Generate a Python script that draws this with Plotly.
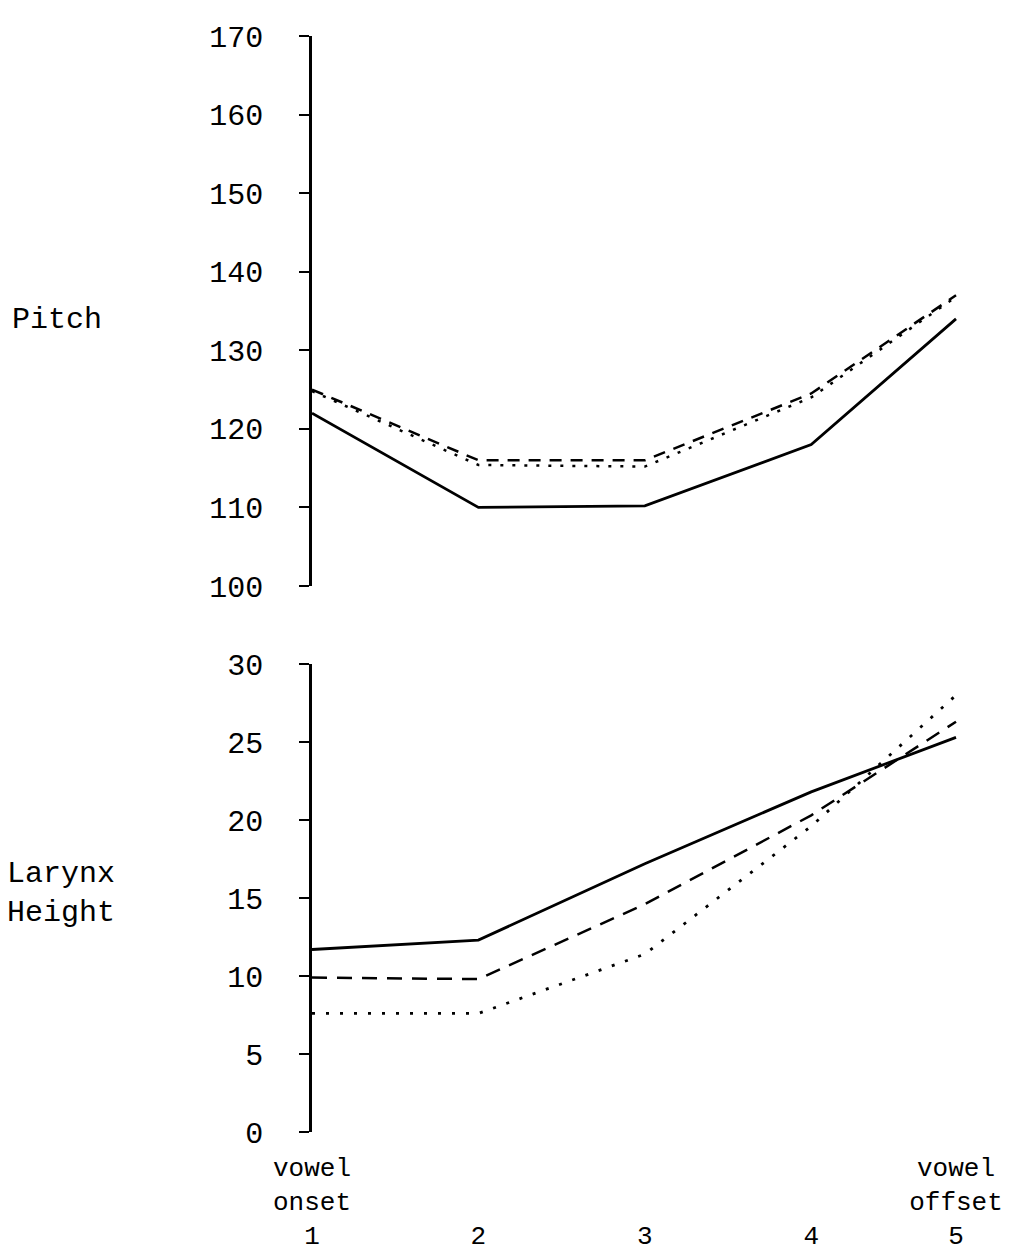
import plotly.graph_objects as go

# ---- data ----
time_index = [1, 2, 3, 4, 4.87]          # horizontal position of the 5 measurement points
NB = "\u00a0"
tick_labels = ["vowel<br>onset<br>1",
               NB + "<br>" + NB + "<br>2",
               NB + "<br>" + NB + "<br>3",
               NB + "<br>" + NB + "<br>4",
               "vowel<br>offset<br>5"]

pitch_solid = [122.0, 110.0, 110.2, 118.0, 134.0]
pitch_dashed = [125.0, 116.0, 116.0, 124.5, 137.0]
pitch_dotted = [124.8, 115.4, 115.2, 124.0, 136.8]

larynx_solid = [11.7, 12.3, 17.2, 21.8, 25.3]
larynx_dashed = [9.9, 9.8, 14.6, 20.3, 26.3]
larynx_dotted = [7.6, 7.6, 11.4, 19.6, 28.0]

pitch_ticks = [100, 110, 120, 130, 140, 150, 160, 170]
larynx_ticks = [0, 5, 10, 15, 20, 25, 30]

FONT = "Liberation Mono"
FS = 30
W, H = 1021, 1252

fig = go.Figure()

def add(x, y, dash, xa, ya, width=2.5):
    fig.add_trace(go.Scatter(x=x, y=y, mode="lines", xaxis=xa, yaxis=ya,
                             line=dict(color="black", width=width, dash=dash),
                             showlegend=False, hoverinfo="skip"))

# top panel (pitch)
add(time_index, pitch_solid, "solid", "x2", "y2", 2.8)
add(time_index, pitch_dashed, "12px,9px", "x2", "y2", 2.5)
add(time_index, pitch_dotted, "3px,9px", "x2", "y2", 2.5)

# bottom panel (larynx height)
add(time_index, larynx_solid, "solid", "x", "y", 2.8)
add(time_index, larynx_dashed, "15px,10px", "x", "y", 2.5)
add(time_index, larynx_dotted, "3px,11px", "x", "y", 2.8)

x_dom = [312 / W, 961 / W]
x_rng = [1, 4.9]

yaxis_common = dict(
    showline=True, linecolor="black", linewidth=2.5,
    ticks="outside", ticklen=10, tickwidth=2, tickcolor="black",
    showgrid=False, zeroline=False, ticklabelstandoff=30, automargin=False,
    tickfont=dict(family=FONT, size=FS, color="black"),
)

fig.update_layout(
    width=W, height=H,
    margin=dict(l=0, r=0, t=0, b=0, autoexpand=False),
    paper_bgcolor="white", plot_bgcolor="white",
    xaxis=dict(domain=x_dom, range=x_rng, anchor="y", automargin=False,
               showline=False, showgrid=False, zeroline=False, ticks="",
               tickmode="array", tickvals=time_index, ticktext=tick_labels,
               tickfont=dict(family=FONT, size=26, color="black"),
               ticklabelstandoff=17),
    xaxis2=dict(domain=x_dom, range=x_rng, anchor="y2", automargin=False,
                showline=False, showgrid=False, zeroline=False,
                showticklabels=False, ticks=""),
    yaxis=dict(domain=[1 - 1132 / H, 1 - 664 / H], range=[0, 30],
               anchor="x", tickmode="array", tickvals=larynx_ticks,
               **yaxis_common),
    yaxis2=dict(domain=[1 - 586 / H, 1 - 36 / H], range=[100, 170],
                anchor="x2", tickmode="array", tickvals=pitch_ticks,
                **yaxis_common),
    annotations=[
        dict(text="Pitch", x=10 / W, y=1 - 320 / H, xref="paper", yref="paper",
             xanchor="left", yanchor="middle", showarrow=False,
             font=dict(family=FONT, size=FS, color="black")),
        dict(text="Larynx<br>Height", x=5 / W, y=1 - 893 / H, xref="paper", yref="paper",
             xanchor="left", yanchor="middle", align="left", showarrow=False,
             font=dict(family=FONT, size=FS, color="black")),
    ],
)

fig.write_html("out.html")
